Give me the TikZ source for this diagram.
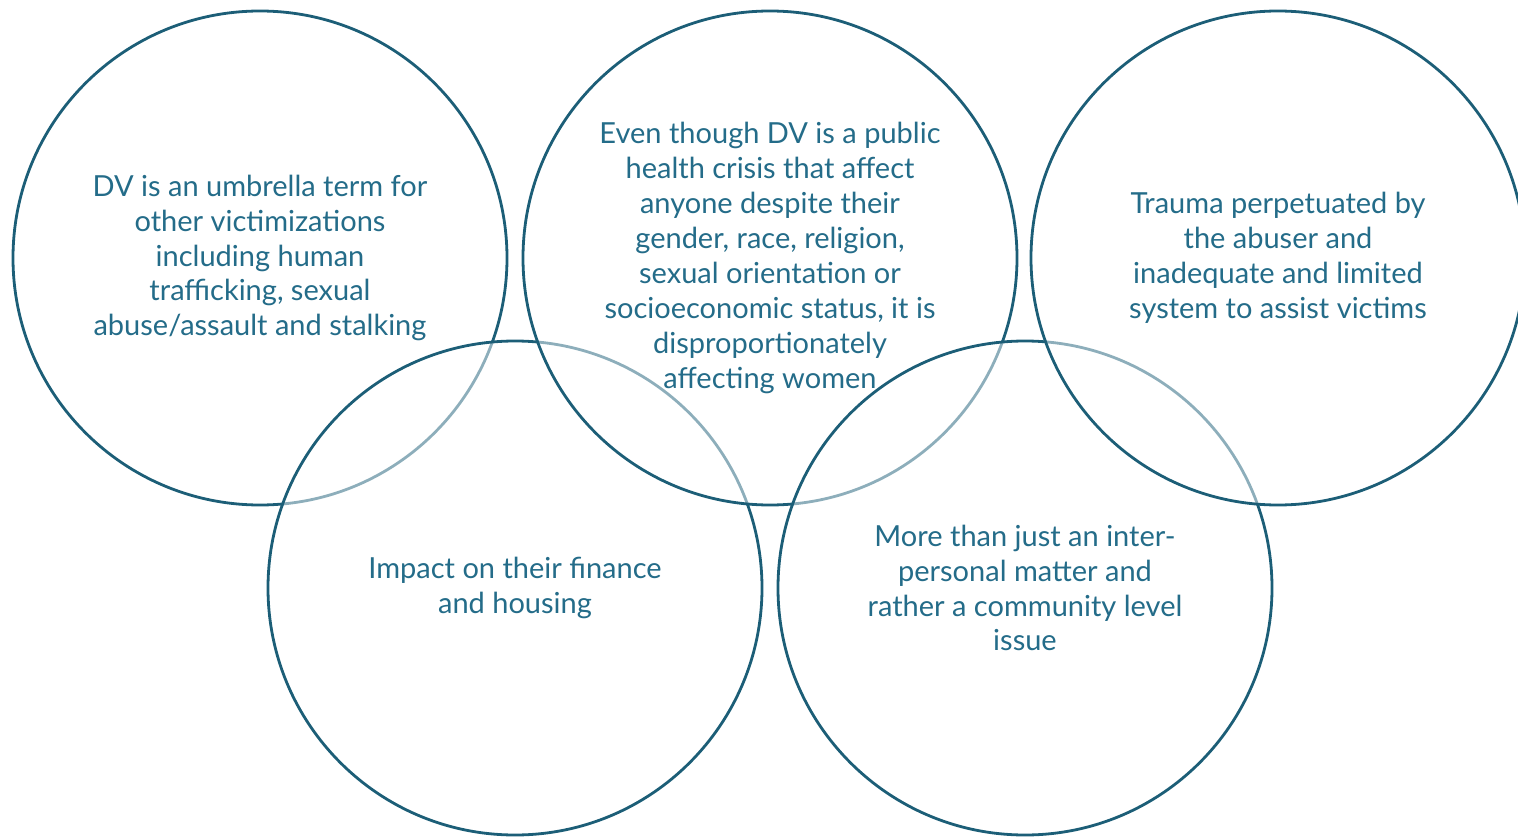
\documentclass[tikz,border=0pt]{standalone}
\usepackage{fontspec}
\setmainfont{Lato}
\definecolor{ringline}{HTML}{1C5E77}
\definecolor{ringtext}{HTML}{246C89}
\begin{document}
\begin{tikzpicture}[x=1pt,y=-1pt,
  ring/.style={circle, draw=ringline, line width=2.8pt, fill=white, fill opacity=0.5,
    text opacity=1, minimum size=494pt, inner sep=0pt, align=center,
    text=ringtext, font=\fontsize{29}{34.9}\selectfont}]
\useasboundingbox (0,0) rectangle (1518,837);
\begin{scope}
\clip (0,0) rectangle (1518,837);
\node[ring] (c1) at (260,258) {DV is an umbrella term for\\other victimizations\\including human\\trafficking, sexual\\abuse/assault and stalking};
\node[ring] (c4) at (515,588) {Impact on their finance\\and housing};
\node[ring] (c2) at (770,258) {Even though DV is a public\\health crisis that affect\\anyone despite their\\gender, race, religion,\\sexual orientation or\\socioeconomic status, it is\\disproportionately\\affecting women};
\node[ring] (c5) at (1025,588) {More than just an inter-\\personal matter and\\rather a community level\\issue};
\node[ring] (c3) at (1278,258) {Trauma perpetuated by\\the abuser and\\inadequate and limited\\system to assist victims};
\end{scope}
\end{tikzpicture}
\end{document}
